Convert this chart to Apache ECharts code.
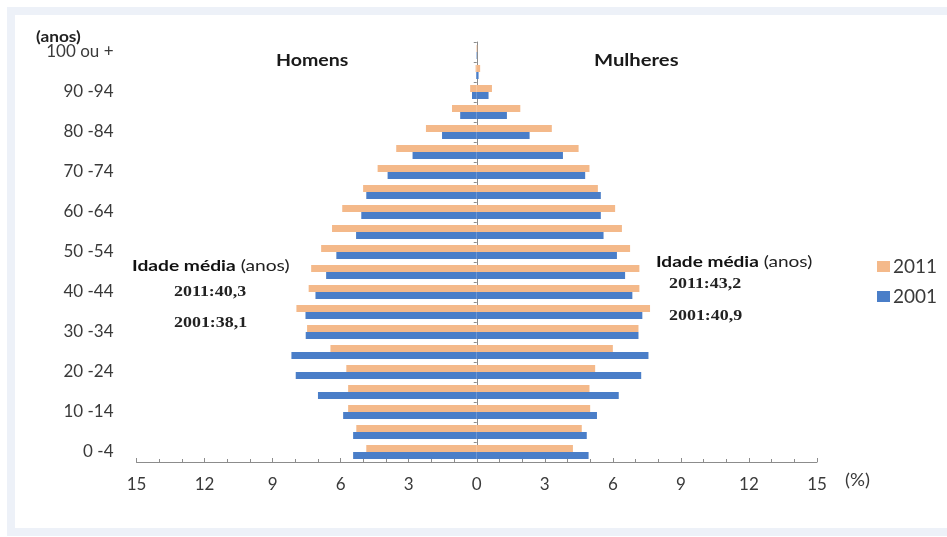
<!DOCTYPE html>
<html>
<head>
<meta charset="utf-8">
<script src="https://cdn.jsdelivr.net/npm/echarts@6/dist/echarts.min.js"></script>
<style>
html,body{margin:0;padding:0;background:#fff;}
#c{width:947px;height:537px;}
</style>
</head>
<body>
<div id="c"></div>
<script>
const categories = ['0 -4','5 -9','10 -14','15 -19','20 -24','25 -29','30 -34','35 -39','40 -44','45 -49','50 -54','55 -59','60 -64','65 -69','70 -74','75 -79','80 -84','85 -89','90 -94','95 -99','100 ou +'];
const men2011   = [4.87,5.31,5.67,5.67,5.75,6.45,7.48,7.95,7.41,7.30,6.86,6.38,5.93,5.01,4.37,3.55,2.24,1.09,0.29,0.05,0.01];
const men2001   = [5.45,5.45,5.89,7.00,7.98,8.17,7.54,7.55,7.11,6.64,6.19,5.32,5.09,4.87,3.93,2.83,1.53,0.73,0.21,0.03,0.01];
const women2011 = [4.24,4.63,5.00,4.97,5.22,6.00,7.13,7.64,7.17,7.17,6.76,6.40,6.10,5.34,4.97,4.49,3.31,1.92,0.67,0.15,0.02];
const women2001 = [4.93,4.85,5.30,6.26,7.25,7.57,7.13,7.30,6.86,6.54,6.18,5.59,5.47,5.47,4.78,3.80,2.33,1.33,0.52,0.08,0.01];
const years = ['2011','2001'];
const xTicks = {min:-15, max:15, interval:3};

const COL2011 = '#f4b98a';
const COL2001 = '#4a7ec8';
const LBL = '#3a3a3a';
const FONT = 'Lato, "Open Sans", sans-serif';
const SERIF = '"Liberation Serif", "DejaVu Serif", serif';

const chart = echarts.init(document.getElementById('c'), null, {renderer:'canvas'});
const neg = a => a.map(v => -v);

function txt(s, x, y, font, sx, fill, rich) {
  const st = {text: s, x: 0, y: 0, font: font, fill: fill || '#1a1a1a', textVerticalAlign: 'middle'};
  if (rich) st.rich = rich;
  return {type: 'text', x: x, y: y, scaleX: sx || 1, style: st};
}

const richB = {b: {fontWeight: 'bold', fontSize: 16, fontFamily: FONT, fill: '#111'}};

const option = {
  animation: false,
  backgroundColor: '#ffffff',
  grid: {left: 136.5, right: 130, top: 42, bottom: 75, containLabel: false},
  legend: {
    orient: 'vertical', left: 872, top: 252, itemWidth: 13, itemHeight: 11, itemGap: 11,
    icon: 'rect', data: years,
    textStyle: {fontSize: 19, color: LBL, fontFamily: FONT, padding: [0,0,0,-2]}
  },
  xAxis: {
    type: 'value', min: xTicks.min, max: xTicks.max, interval: xTicks.interval,
    splitLine: {show: false},
    axisLine: {show: true, onZero: false, lineStyle: {color: '#8c8c8c', width: 1}},
    axisTick: {show: true, inside: true, length: 4, lineStyle: {color: '#8c8c8c'}},
    minorTick: {show: true, splitNumber: 3, length: 3, lineStyle: {color: '#8c8c8c'}},
    axisLabel: {formatter: v => Math.abs(v), fontSize: 17, color: LBL, fontFamily: FONT, margin: 14}
  },
  yAxis: [
    {
      type: 'category', data: categories, position: 'left',
      axisLine: {show: false, onZero: false}, axisTick: {show: false},
      axisLabel: {interval: 1, fontSize: 17, color: LBL, fontFamily: FONT, margin: 23, padding: [3,0,0,0]}
    },
    {
      type: 'category', data: categories, position: 'left',
      axisLine: {show: true, onZero: true, lineStyle: {color: '#8c8c8c'}},
      axisTick: {show: true, length: 3, lineStyle: {color: '#8c8c8c'}},
      axisLabel: {show: false}
    }
  ],
  series: [
    {name: '2011', type: 'bar', stack: 's2011', yAxisIndex: 0, data: neg(men2011), itemStyle: {color: COL2011}, barWidth: 7, barGap: '0%'},
    {name: '2011', type: 'bar', stack: 's2011', yAxisIndex: 0, data: women2011, itemStyle: {color: COL2011}, barWidth: 7, barGap: '0%'},
    {name: '2001', type: 'bar', stack: 's2001', yAxisIndex: 0, data: neg(men2001), itemStyle: {color: COL2001}, barWidth: 7, barGap: '0%'},
    {name: '2001', type: 'bar', stack: 's2001', yAxisIndex: 0, data: women2001, itemStyle: {color: COL2001}, barWidth: 7, barGap: '0%'}
  ],
  graphic: [
    {type: 'rect', silent: true, z: -10, shape: {x: 11, y: 11, width: 950, height: 521},
     style: {fill: 'none', stroke: '#edf1f8', lineWidth: 8}},
    txt('(anos)', 36, 37, 'bold 16px ' + FONT, 1.08, '#222'),
    txt('Homens', 276, 61, 'bold 17px ' + FONT, 1.15),
    txt('Mulheres', 594, 61, 'bold 17px ' + FONT, 1.19),
    txt('{b|Idade média} (anos)', 132, 266, '16px ' + FONT, 1.2, '#222', richB),
    txt('{b|Idade média} (anos)', 656, 262, '16px ' + FONT, 1.19, '#222', richB),
    txt('2011:40,3', 174, 292, 'bold 14px ' + SERIF, 1.28, '#222'),
    txt('2001:38,1', 174, 323, 'bold 14px ' + SERIF, 1.28, '#222'),
    txt('2011:43,2', 669, 284, 'bold 14px ' + SERIF, 1.28, '#222'),
    txt('2001:40,9', 669, 316, 'bold 14px ' + SERIF, 1.28, '#222'),
    txt('(%)', 845, 481, '17px ' + FONT, 1.1, LBL)
  ]
};
chart.setOption(option);
</script>
</body>
</html>
